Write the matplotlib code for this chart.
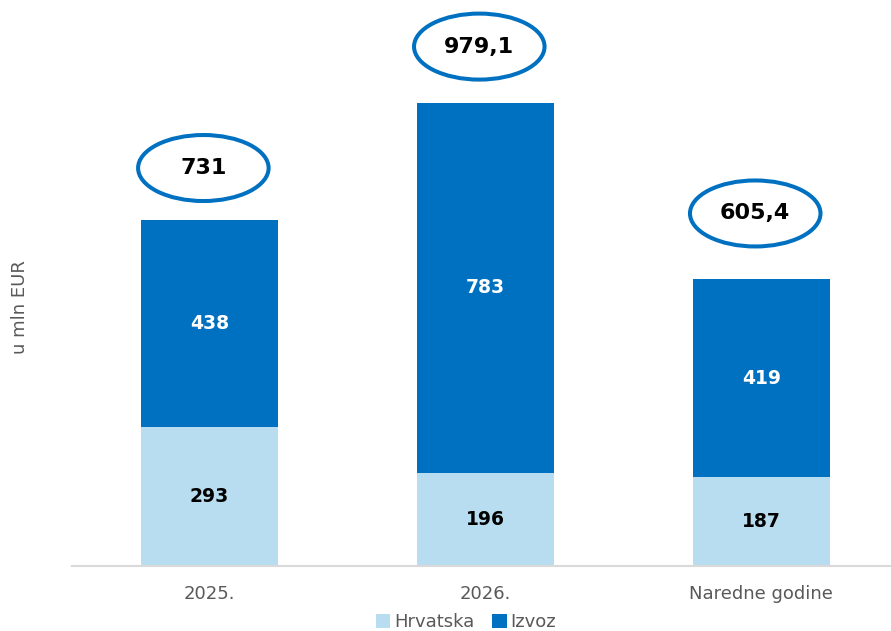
import matplotlib
matplotlib.use("Agg")
import matplotlib.pyplot as plt
from matplotlib.patches import Ellipse, Patch

plt.rcParams["font.family"] = ["DejaVu Sans"]

categories = ["2025.", "2026.", "Naredne godine"]
hrvatska = [293, 196, 187]
izvoz = [438, 783, 419]
totals = [731, 979.1, 605.4]
total_labels = ["731", "979,1", "605,4"]

# layout: gap (px) between bar top and the centre of its total-ellipse
ellipse_gap_px = [52, 56, 66]

c_light = "#B9DDF0"
c_dark = "#0070C0"
gray = "#595959"

W, H = 891, 631
PX_PER_UNIT = 0.4733
fig = plt.figure(figsize=(W / 100, H / 100), dpi=100)
ax = fig.add_axes([72 / W, (H - 566) / H, (891 - 72) / W, (566 - 5) / H])

x = list(range(len(categories)))
bw = 0.496
ax.bar(x, hrvatska, width=bw, color=c_light, label="Hrvatska", zorder=2)
ax.bar(x, izvoz, width=bw, bottom=hrvatska, color=c_dark, label="Izvoz", zorder=2)

ax.set_xlim(-0.498, 2.47)
ax.set_ylim(0, 561 / PX_PER_UNIT)

for i in x:
    ax.text(i, hrvatska[i] / 2, str(hrvatska[i]), ha="center", va="center",
            fontsize=13.5, fontweight="bold", color="black")
    ax.text(i, hrvatska[i] + izvoz[i] / 2, str(izvoz[i]), ha="center", va="center",
            fontsize=13.5, fontweight="bold", color="white")
    cy = totals[i] + ellipse_gap_px[i] / PX_PER_UNIT
    ax.add_patch(Ellipse((i - 0.022, cy), width=0.473, height=66 / PX_PER_UNIT,
                         facecolor="white", edgecolor=c_dark, lw=2.9, zorder=3))
    ax.text(i - 0.022, cy, total_labels[i], ha="center", va="center",
            fontsize=16, fontweight="bold", color="black", zorder=4)

for s in ["top", "right", "left"]:
    ax.spines[s].set_visible(False)
ax.spines["bottom"].set_color("#D9D9D9")
ax.spines["bottom"].set_linewidth(1.5)
ax.set_yticks([])
ax.set_xticks(x)
ax.set_xticklabels(categories, fontsize=13, color=gray)
ax.tick_params(axis="x", length=0, pad=14)

fig.text(20 / W, 1 - 307 / H, "u mln EUR", rotation=90, ha="center", va="center",
         fontsize=13, color=gray)

handles = [Patch(facecolor=c_light, label="Hrvatska"), Patch(facecolor=c_dark, label="Izvoz")]
fig.legend(handles=handles, loc="center", bbox_to_anchor=(466 / W, 1 - 622 / H), ncol=2,
           frameon=False, fontsize=13, handlelength=0.8, handleheight=0.8,
           handletextpad=0.2, columnspacing=1.0, labelcolor=gray)

fig.savefig("out.png", dpi=100)
